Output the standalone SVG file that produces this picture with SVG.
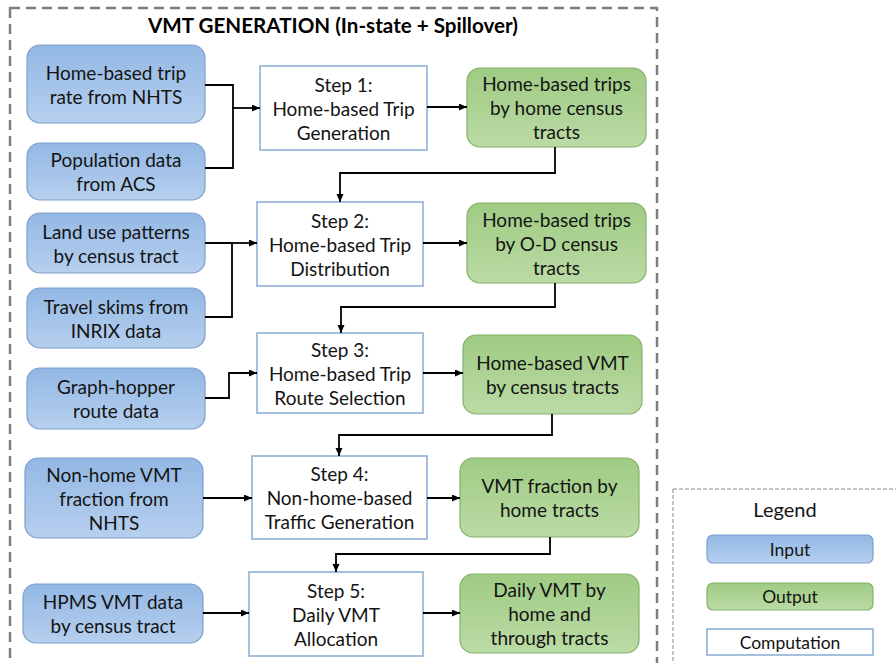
<svg xmlns="http://www.w3.org/2000/svg" width="896" height="663" viewBox="0 0 896 663">
<defs>
<linearGradient id="gBlue" x1="0" y1="0" x2="0" y2="1">
<stop offset="0" stop-color="#93b8e4"/>
<stop offset="1" stop-color="#b6cfee"/>
</linearGradient>
<linearGradient id="gGreen" x1="0" y1="0" x2="0" y2="1">
<stop offset="0" stop-color="#9fcb83"/>
<stop offset="1" stop-color="#bbdba5"/>
</linearGradient>
<marker id="arr" markerUnits="userSpaceOnUse" markerWidth="9" markerHeight="8" refX="8" refY="3.5" orient="auto">
<path d="M0,0 L8,3.5 L0,7 z" fill="#000"/>
</marker>
<style>
.inp{fill:url(#gBlue);stroke:#7d9fcc;stroke-width:1.2}
.out{fill:url(#gGreen);stroke:#86b16a;stroke-width:1.2}
.cmp{fill:#fff;stroke:#8fb0d8;stroke-width:1.6}
text{font-family:Lato,"Liberation Sans",sans-serif;font-size:19px;fill:#141414;text-anchor:middle}
.ttl{font-weight:bold;font-size:20px;fill:#000}
.con path{fill:none;stroke:#000;stroke-width:1.8}
</style>
</defs>
<rect x="0" y="0" width="896" height="663" fill="#fff"/>
<rect id="frame" x="10" y="8" width="647" height="670" fill="none" stroke="#7f7f7f" stroke-width="2.5" stroke-dasharray="10 6"/>
<text class="ttl" x="333" y="33" textLength="370" lengthAdjust="spacingAndGlyphs">VMT GENERATION (In-state + Spillover)</text>

<g id="in1"><rect class="inp" x="27" y="45" width="178" height="78" rx="13"/><text x="116" y="80">Home-based trip</text><text x="116" y="104">rate from NHTS</text></g>
<g id="in2"><rect class="inp" x="27" y="143" width="178" height="57" rx="13"/><text x="116" y="167">Population data</text><text x="116" y="191">from ACS</text></g>
<g id="in3"><rect class="inp" x="27" y="213" width="178" height="60" rx="13"/><text x="116" y="238.5">Land use patterns</text><text x="116" y="262.5">by census tract</text></g>
<g id="in4"><rect class="inp" x="27" y="288" width="178" height="60" rx="13"/><text x="116" y="313.5">Travel skims from</text><text x="116" y="337.5">INRIX data</text></g>
<g id="in5"><rect class="inp" x="27" y="368" width="178" height="61" rx="13"/><text x="116" y="394">Graph-hopper</text><text x="116" y="418">route data</text></g>
<g id="in6"><rect class="inp" x="25" y="458" width="178" height="80" rx="13"/><text x="114" y="481.5">Non-home VMT</text><text x="114" y="505.5">fraction from</text><text x="114" y="529.5">NHTS</text></g>
<g id="in7"><rect class="inp" x="23" y="584" width="180" height="59" rx="13"/><text x="113" y="609">HPMS VMT data</text><text x="113" y="633">by census tract</text></g>

<g id="s1"><rect class="cmp" x="260" y="66" width="167" height="84"/><text x="343.5" y="91.5">Step 1:</text><text x="343.5" y="115.5">Home-based Trip</text><text x="343.5" y="139.5">Generation</text></g>
<g id="s2"><rect class="cmp" x="257" y="202" width="166" height="84"/><text x="340" y="227.5">Step 2:</text><text x="340" y="251.5">Home-based Trip</text><text x="340" y="275.5">Distribution</text></g>
<g id="s3"><rect class="cmp" x="257" y="333" width="166" height="80"/><text x="340" y="356.5">Step 3:</text><text x="340" y="380.5">Home-based Trip</text><text x="340" y="404.5">Route Selection</text></g>
<g id="s4"><rect class="cmp" x="252" y="456" width="175" height="83"/><text x="339.5" y="481">Step 4:</text><text x="339.5" y="505">Non-home-based</text><text x="339.5" y="529">Traffic Generation</text></g>
<g id="s5"><rect class="cmp" x="249" y="572" width="174" height="84"/><text x="336" y="597.5">Step 5:</text><text x="336" y="621.5">Daily VMT</text><text x="336" y="645.5">Allocation</text></g>

<g id="o1"><rect class="out" x="467" y="68" width="179" height="79" rx="13"/><text x="556.5" y="91">Home-based trips</text><text x="556.5" y="115">by home census</text><text x="556.5" y="139">tracts</text></g>
<g id="o2"><rect class="out" x="467" y="203" width="179" height="80" rx="13"/><text x="556.5" y="226.5">Home-based trips</text><text x="556.5" y="250.5">by O-D census</text><text x="556.5" y="274.5">tracts</text></g>
<g id="o3"><rect class="out" x="463" y="335" width="179" height="79" rx="13"/><text x="552.5" y="370">Home-based VMT</text><text x="552.5" y="394">by census tracts</text></g>
<g id="o4"><rect class="out" x="460" y="458" width="179" height="79" rx="13"/><text x="549.5" y="493">VMT fraction by</text><text x="549.5" y="517">home tracts</text></g>
<g id="o5"><rect class="out" x="460" y="574" width="179" height="79" rx="13"/><text x="549.5" y="597">Daily VMT by</text><text x="549.5" y="621">home and</text><text x="549.5" y="645">through tracts</text></g>

<g class="con" id="connectors">
<path d="M205,85 H233 V168 H205"/>
<path d="M233,108 H260" marker-end="url(#arr)"/>
<path d="M427,107 H467" marker-end="url(#arr)"/>
<path d="M555,147 V173 H340 V202" marker-end="url(#arr)"/>
<path d="M205,243 H232 V317 H205"/>
<path d="M232,243 H257" marker-end="url(#arr)"/>
<path d="M423,243 H467" marker-end="url(#arr)"/>
<path d="M555,283 V307 H341 V333" marker-end="url(#arr)"/>
<path d="M205,398 H229 V373 H257" marker-end="url(#arr)"/>
<path d="M423,373 H463" marker-end="url(#arr)"/>
<path d="M552,414 V435 H339 V456" marker-end="url(#arr)"/>
<path d="M203,498 H252" marker-end="url(#arr)"/>
<path d="M427,498 H460" marker-end="url(#arr)"/>
<path d="M550,537 V554 H336 V572" marker-end="url(#arr)"/>
<path d="M203,613 H249" marker-end="url(#arr)"/>
<path d="M423,613 H460" marker-end="url(#arr)"/>
</g>

<g id="legend">
<rect x="673" y="489" width="240" height="200" fill="none" stroke="#8a8a8a" stroke-width="1" stroke-dasharray="4 2"/>
<text x="785" y="517" style="font-size:20px">Legend</text>
<rect class="inp" x="707" y="535" width="166" height="28" rx="6"/><text x="790" y="556" style="font-size:17.5px">Input</text>
<rect class="out" x="707" y="583" width="166" height="27" rx="6"/><text x="790" y="603" style="font-size:17.5px">Output</text>
<rect class="cmp" x="707" y="629" width="166" height="26"/><text x="790" y="649" style="font-size:17.5px">Computation</text>
</g>
</svg>
